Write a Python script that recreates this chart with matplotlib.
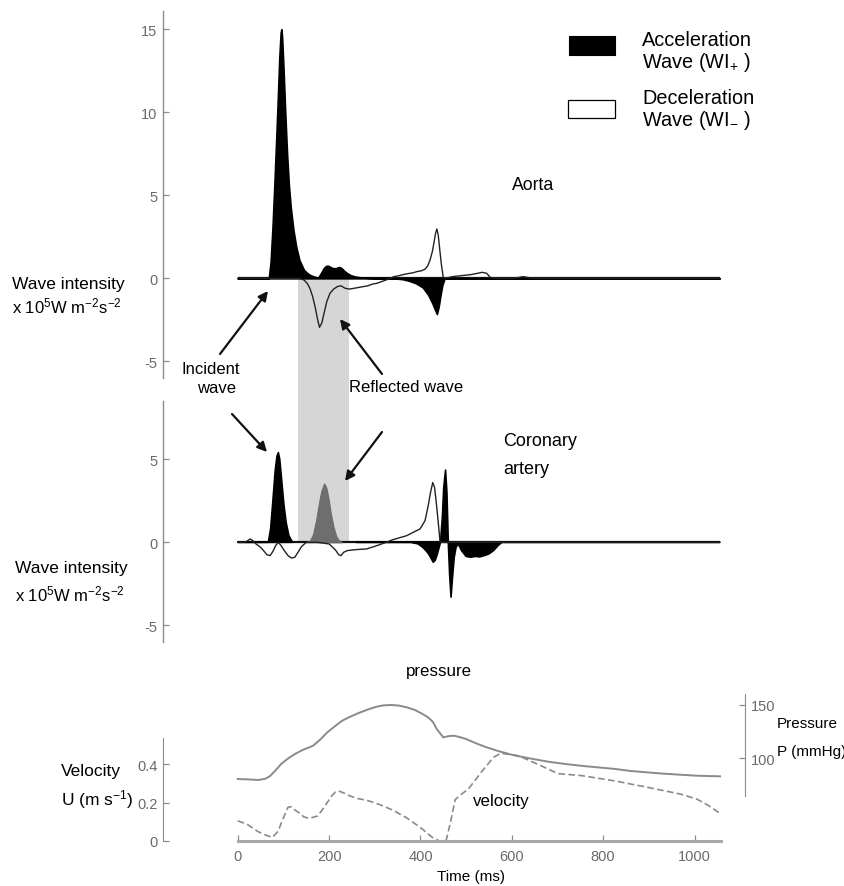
import numpy as np
import matplotlib
matplotlib.use("Agg")
import matplotlib.pyplot as plt
from matplotlib.patches import Rectangle, FancyArrowPatch

plt.rcParams.update({
    "font.family": ["Liberation Sans", "DejaVu Sans"],
    "mathtext.default": "regular",
})

W, H = 845, 887
T_LIM = (-163.6, 1058.0)
TICK_FONT = ["Liberation Sans Narrow", "Liberation Sans", "DejaVu Sans"]
GREY = "#8c8c8c"
TICK_GREY = "#6a6a6a"

# ---------- data ----------
# Aorta, acceleration wave (black)
AORTA_ACC_T = [0, 30, 60, 68, 72, 76, 80, 84, 88, 91, 94, 95.5, 97, 100, 104, 108, 112,
               116, 122, 128, 135, 145, 155, 165, 176, 182, 188, 193, 198, 204, 210, 216,
               222, 227, 233, 240, 248, 258, 270, 290, 340, 360, 375, 390, 405, 417, 426,
               432, 436, 440, 444, 448, 453, 470, 520, 600, 700, 800, 900, 1000, 1055]
AORTA_ACC = [0, 0, 0, 0, 1.0, 3.0, 5.5, 8.2, 11.0, 13.3, 14.8, 15.0, 14.6, 12.8, 10.0, 7.5,
             5.6, 4.3, 2.9, 1.9, 1.1, 0.5, 0.25, 0.12, 0.04, 0.3, 0.6, 0.74, 0.76, 0.66,
             0.6, 0.62, 0.68, 0.62, 0.45, 0.3, 0.18, 0.1, 0.05, 0.02, 0, -0.05, -0.15,
             -0.3, -0.55, -1.0, -1.5, -1.9, -2.15, -1.7, -1.0, -0.4, 0, 0, 0, 0, 0, 0, 0,
             0, 0]
# Aorta, deceleration wave (white)
AORTA_DEC_T = [0, 100, 135, 145, 152, 158, 164, 170, 175, 179, 184, 189, 195, 202, 210,
               218, 226, 235, 245, 255, 265, 275, 285, 295, 305, 315, 325, 333, 342, 352,
               362, 372, 382, 392, 402, 410, 416, 421, 426, 430, 433, 436, 439, 442, 446,
               450, 455, 470, 490, 510, 525, 535, 545, 553, 570, 600, 615, 625, 635, 650,
               700, 800, 900, 1000, 1055]
AORTA_DEC = [0, 0, 0, -0.1, -0.3, -0.6, -1.1, -1.8, -2.5, -2.95, -2.7, -2.1, -1.4, -0.9,
             -0.65, -0.5, -0.45, -0.6, -0.65, -0.6, -0.55, -0.5, -0.45, -0.35, -0.3, -0.2,
             -0.1, 0, 0.1, 0.15, 0.22, 0.28, 0.32, 0.4, 0.45, 0.55, 0.75, 1.1, 1.6, 2.2,
             2.7, 2.97, 2.6, 1.8, 0.8, 0.05, 0, 0.1, 0.16, 0.22, 0.3, 0.36, 0.3, 0.05, 0,
             0, 0.05, 0.1, 0.05, 0, 0, 0, 0, 0, 0]
# Coronary artery, acceleration wave (black, reflected part grey)
COR_ACC_T = [0, 40, 60, 67, 72, 77, 82, 86, 89, 92, 96, 101, 106, 112, 120, 150, 158, 165,
             172, 178, 183, 189, 194, 199, 204, 210, 216, 222, 228, 260, 380, 395, 405,
             412, 418, 423, 428, 432, 436, 440, 444, 448, 451, 455, 458, 461, 464, 467,
             470, 474, 478, 483, 490, 500, 510, 520, 530, 540, 550, 560, 570, 578, 600,
             1055]
COR_ACC = [0, 0, 0, 0, 0.8, 2.5, 4.3, 5.2, 5.4, 5.0, 3.8, 2.3, 1.2, 0.4, 0, 0, 0.1, 0.5,
           1.4, 2.4, 3.1, 3.55, 3.3, 2.6, 1.7, 0.9, 0.35, 0.1, 0, 0, 0, -0.1, -0.3, -0.5,
           -0.7, -0.95, -1.2, -1.1, -0.8, -0.4, 0, 1.5, 3.3, 4.35, 3.0, 0, -2.0, -3.3,
           -2.2, -0.9, -0.3, -0.1, -0.5, -0.85, -0.9, -0.85, -0.88, -0.8, -0.7, -0.5,
           -0.2, 0, 0, 0]
# Coronary artery, deceleration wave (white)
COR_DEC_T = [0, 15, 22, 27, 33, 40, 50, 58, 64, 71, 77, 83, 89, 95, 102, 110, 118, 125,
             132, 140, 150, 175, 200, 208, 215, 221, 226, 232, 240, 255, 270, 282, 296,
             310, 325, 340, 355, 370, 384, 399, 410, 417, 422, 427, 431, 435, 439, 443,
             460, 600, 800, 1000, 1055]
COR_DEC = [0, 0, 0.1, 0.2, 0.1, -0.1, -0.3, -0.55, -0.75, -0.8, -0.55, -0.2, 0, -0.2,
           -0.5, -0.8, -0.95, -0.9, -0.6, -0.25, 0, 0, -0.1, -0.3, -0.5, -0.75, -0.8,
           -0.6, -0.5, -0.45, -0.42, -0.4, -0.28, -0.15, 0, 0.16, 0.28, 0.4, 0.6, 0.8,
           1.3, 2.2, 3.0, 3.6, 3.3, 2.3, 1.2, 0, 0, 0, 0, 0, 0]
# shaded "reflected wave" window (ms)
BAND = [133, 244]

# Aortic pressure (mmHg)
P_T = [0, 20, 45, 60, 70, 82, 95, 110, 125, 142, 165, 180, 196, 212, 228, 245, 265, 285,
       303, 320, 336, 352, 370, 388, 405, 417, 427, 436, 450, 462, 474, 486, 500, 525,
       545, 573, 605, 645, 680, 717, 752, 789, 825, 861, 897, 933, 970, 1005, 1058]
P = [80.3, 80, 79.4, 80.5, 82.8, 88, 94.4, 99.5, 103.7, 107.5, 111.5, 117, 124, 129.5,
     134.8, 138.5, 142.2, 145.5, 148, 149.4, 149.7, 149.2, 147.5, 145, 141.2, 138, 134,
     127, 119.4, 120.5, 120.9, 119.6, 117.8, 113.2, 110, 106.2, 102.5, 99.2, 96.5, 94.4,
     92.7, 91.2, 89.8, 87.8, 86.5, 85.3, 84.3, 83.4, 82.8]
# Velocity (m/s)
U_T = [0, 20, 45, 62, 76, 88, 100, 110, 117, 126, 135, 145, 153, 163, 175, 186, 196, 206,
       214, 221, 232, 245, 260, 285, 310, 340, 370, 400, 428, 442, 456, 466, 476, 488,
       505, 533, 560, 576, 615, 665, 701, 752, 824, 897, 969, 1005, 1030, 1058]
U = [0.105, 0.088, 0.048, 0.03, 0.019, 0.05, 0.12, 0.175, 0.178, 0.16, 0.145, 0.125, 0.12,
     0.122, 0.13, 0.165, 0.2, 0.235, 0.255, 0.26, 0.25, 0.235, 0.222, 0.21, 0.19, 0.16,
     0.12, 0.07, 0.015, 0, 0, 0.1, 0.215, 0.24, 0.27, 0.357, 0.435, 0.456, 0.443, 0.39,
     0.35, 0.34, 0.313, 0.279, 0.244, 0.218, 0.185, 0.14]

TIME_TICKS = [0, 200, 400, 600, 800, 1000]


def fx(x):
    return x / W


def fy(y):
    return 1 - y / H


def add_ax(fig, x0, x1, y_top, y_bot, **kw):
    return fig.add_axes([fx(x0), fy(y_bot), (x1 - x0) / W, (y_bot - y_top) / H], **kw)


def style_ticks(ax, axis="y"):
    ax.tick_params(axis=axis, direction="in", length=4, width=0.9, colors=GREY,
                   labelcolor=TICK_GREY, labelsize=10.5, pad=4)
    labels = ax.get_yticklabels() if axis == "y" else ax.get_xticklabels()
    for lab in labels:
        lab.set_fontfamily(TICK_FONT)


def wave_panel(ax, ylim, ticks, acc_t, acc, dec_t, dec, band=None):
    t = np.array(acc_t, float)
    v = np.array(acc, float)
    # dark zero trace under the waves
    ax.hlines(0, t[0], t[-1], color="#111111", lw=1.6, zorder=2)
    if band is None:
        ax.fill_between(t, v, 0, facecolor="black", edgecolor="black", lw=1.2, zorder=3)
    else:
        inside = (t >= band[0]) & (t <= band[1])
        ax.fill_between(t, v, 0, where=~inside, facecolor="black", edgecolor="black",
                        lw=1.2, zorder=3)
        ax.fill_between(t, v, 0, where=inside, facecolor="#6e6e6e", edgecolor="#6e6e6e",
                        lw=0.8, zorder=3)
    ax.plot(dec_t, dec, color="#222222", lw=1.0, zorder=4)
    ax.set_xlim(*T_LIM)
    ax.set_ylim(*ylim)
    ax.patch.set_visible(False)
    for s in ("top", "right", "bottom"):
        ax.spines[s].set_visible(False)
    ax.spines["left"].set_color(GREY)
    ax.spines["left"].set_linewidth(1.0)
    ax.set_xticks([])
    ax.set_yticks(ticks)
    ax.set_yticklabels([f"{k:g}" for k in ticks])
    style_ticks(ax, "y")


def main():
    fig = plt.figure(figsize=(W / 100, H / 100), dpi=100)

    # grey "reflected wave" window spanning both wave-intensity panels
    ax_band = add_ax(fig, 163, 721, 279.3, 543.3)
    ax_band.axvspan(BAND[0], BAND[1], color="#d6d6d6", lw=0)
    ax_band.set_xlim(*T_LIM)
    ax_band.axis("off")
    ax_band.set_zorder(0)

    ax1 = add_ax(fig, 163, 721, 12.0, 378.9)
    wave_panel(ax1, (-6.0, 16.1), [-5, 0, 5, 10, 15],
               AORTA_ACC_T, AORTA_ACC, AORTA_DEC_T, AORTA_DEC)
    ax1.set_zorder(1)

    ax2 = add_ax(fig, 163, 721, 402.2, 642.9)
    wave_panel(ax2, (-6.0, 8.5), [-5, 0, 5],
               COR_ACC_T, COR_ACC, COR_DEC_T, COR_DEC, band=BAND)
    ax2.set_zorder(1)

    # pressure / velocity panel
    ax3 = add_ax(fig, 163, 721, 695.0, 842.0)
    ax3.plot(U_T, U, color="#8a8a8a", lw=1.2, ls=(0, (4, 2)))
    ax3.set_xlim(*T_LIM)
    ax3.set_ylim(0, 0.764)
    for s in ("top", "right"):
        ax3.spines[s].set_visible(False)
    ax3.spines["left"].set_bounds(0, 0.535)
    ax3.spines["left"].set_color(GREY)
    ax3.spines["bottom"].set_bounds(0, T_LIM[1])
    ax3.spines["bottom"].set_color("#a8a8a8")
    ax3.spines["bottom"].set_linewidth(2.2)
    ax3.set_yticks([0, 0.2, 0.4])
    ax3.set_yticklabels(["0", "0.2", "0.4"])
    ax3.set_xticks(TIME_TICKS)
    ax3.set_xticklabels([str(k) for k in TIME_TICKS])
    style_ticks(ax3, "y")
    style_ticks(ax3, "x")
    ax3.tick_params(axis="x", pad=6)

    ax3p = ax3.twinx()
    ax3p.plot(P_T, P, color="#8a8a8a", lw=1.4)
    ax3p.set_ylim(22.2, 160.0)
    for s in ("top", "left", "bottom"):
        ax3p.spines[s].set_visible(False)
    ax3p.spines["right"].set_position(("outward", 17.3))
    ax3p.spines["right"].set_bounds(64.5, 160)
    ax3p.spines["right"].set_color(GREY)
    ax3p.set_yticks([100, 150])
    ax3p.set_yticklabels(["100", "150"])
    style_ticks(ax3p, "y")

    # ---------- texts ----------
    def txt(x, y, s, size=12.5, ha="left", va="center", **kw):
        fig.text(fx(x), fy(y), s, fontsize=size, ha=ha, va=va, color="black", **kw)

    ylab2 = r"x 10$^{5}$W m$^{-2}$s$^{-2}$"
    txt(12, 285, "Wave intensity")
    txt(12, 306, ylab2, size=12)
    txt(15, 568, "Wave intensity")
    txt(15, 594, ylab2, size=12)
    txt(61, 772, "Velocity")
    txt(61, 800, r"U (m s$^{-1}$)")
    txt(777, 724, "Pressure", size=11)
    txt(777, 752, "P (mmHg)", size=11)
    txt(471, 877, "Time (ms)", size=11, ha="center")
    txt(439, 672, "pressure", size=12.2, ha="center")
    txt(473, 802, "velocity", size=12.2)
    txt(512, 185, "Aorta", size=12.7)
    txt(503, 442, "Coronary", size=13)
    txt(503, 470, "artery", size=13)
    txt(211, 369, "Incident", size=12, ha="center")
    txt(217, 389, "wave", size=12, ha="center")
    txt(349, 387, "Reflected wave", size=12)

    # legend
    fig.add_artist(Rectangle((fx(569), fy(55.7)), 46 / W, 18.4 / H,
                             transform=fig.transFigure, fc="black", ec="black", lw=0.8))
    fig.add_artist(Rectangle((fx(568.3), fy(119.3)), 46.7 / W, 18.6 / H,
                             transform=fig.transFigure, fc="white", ec="black", lw=0.9))
    txt(642, 40, "Acceleration", size=14.3)
    txt(642, 63, r"Wave (WI$_{+}$ )", size=14.3)
    txt(642, 98, "Deceleration", size=14.3)
    txt(642, 120, r"Wave (WI$_{-}$ )", size=14.3)

    # arrows
    arrows = [((220, 355), (268, 292)), ((232, 415), (267, 453)),
              ((382, 375), (340, 320)), ((382, 433), (345, 482))]
    for (x0, y0), (x1, y1) in arrows:
        fig.add_artist(FancyArrowPatch(
            (fx(x0), fy(y0)), (fx(x1), fy(y1)), transform=fig.transFigure,
            arrowstyle="-|>", mutation_scale=14, color="#111111", lw=1.6,
            shrinkA=0, shrinkB=0))

    fig.savefig("out.png", dpi=100)


if __name__ == "__main__":
    main()
